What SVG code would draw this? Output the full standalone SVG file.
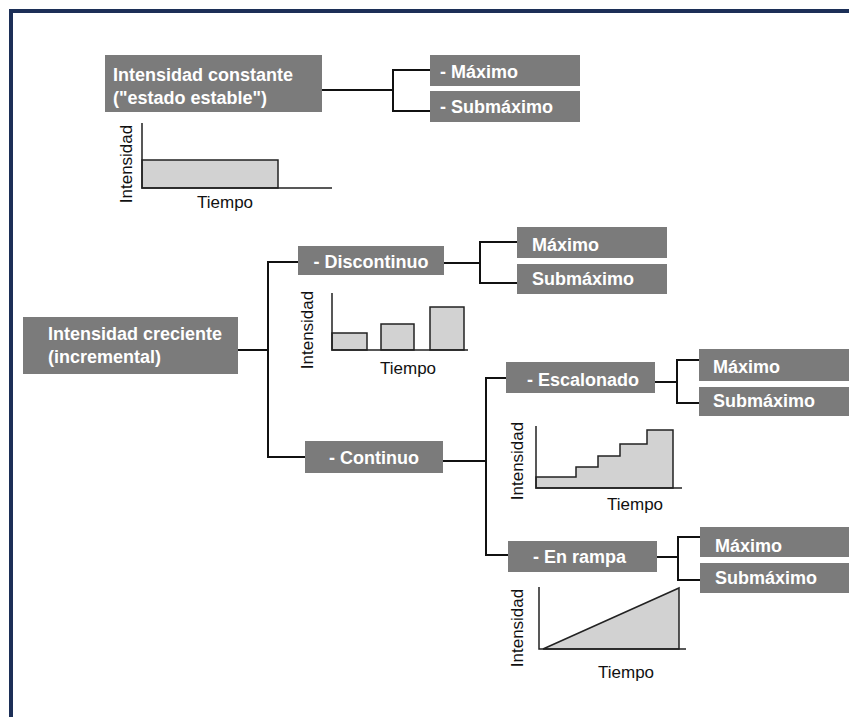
<svg xmlns="http://www.w3.org/2000/svg" width="849" height="717" viewBox="0 0 849 717">
<style>
.box{fill:#7b7b7b}
.bt{font-family:"Liberation Sans",Arial,sans-serif;font-weight:bold;font-size:18px;fill:#ffffff}
.ax{font-family:"Liberation Sans",Arial,sans-serif;font-size:17px;fill:#111111}
.ln{fill:none;stroke:#111111;stroke-width:2}
.axis{fill:none;stroke:#222222;stroke-width:1.5}
.bar{fill:#d2d2d2;stroke:#222222;stroke-width:1.5}
</style>
<rect x="0" y="0" width="849" height="717" fill="#ffffff"/>
<rect x="9" y="9" width="840" height="4" fill="#1c2f57"/>
<rect x="9" y="9" width="4" height="708" fill="#1c2f57"/>
<g id="connectors">
<path class="ln" d="M322,90 H393 M430,70 H393 V111 H430"/>
<path class="ln" d="M238,350 H268 M298,262 H268 V457 H305"/>
<path class="ln" d="M444,263 H480 M517,242 H480 V283 H517"/>
<path class="ln" d="M443,461 H486 M506,378 H486 V555 H508"/>
<path class="ln" d="M655,382 H677 M699,360 H677 V403 H699"/>
<path class="ln" d="M657,557 H678 M700,537 H678 V580 H700"/>
</g>
<g id="n-constante">
<rect class="box" x="105" y="55" width="217" height="57"/>
<text class="bt" x="113" y="81">Intensidad constante</text>
<text class="bt" x="113" y="104">("estado estable")</text>
</g>
<g id="n-max1"><rect class="box" x="430" y="55" width="150" height="31"/><text class="bt" x="440" y="78">- Máximo</text></g>
<g id="n-sub1"><rect class="box" x="430" y="91" width="150" height="31"/><text class="bt" x="440" y="113">- Submáximo</text></g>
<g id="chart1">
<rect class="bar" x="142" y="160" width="136" height="28"/>
<path class="axis" d="M142,123 V188 H332"/>
<text class="ax" transform="translate(132,164) rotate(-90)" text-anchor="middle">Intensidad</text>
<text class="ax" x="197" y="208">Tiempo</text>
</g>
<g id="n-creciente">
<rect class="box" x="23" y="317" width="215" height="57"/>
<text class="bt" x="48" y="340">Intensidad creciente</text>
<text class="bt" x="48" y="363">(incremental)</text>
</g>
<g id="n-discontinuo"><rect class="box" x="298" y="246" width="146" height="29"/><text class="bt" x="371" y="268" text-anchor="middle">- Discontinuo</text></g>
<g id="n-max2"><rect class="box" x="517" y="227" width="150" height="31"/><text class="bt" x="532" y="251">Máximo</text></g>
<g id="n-sub2"><rect class="box" x="517" y="264" width="150" height="30"/><text class="bt" x="532" y="285">Submáximo</text></g>
<g id="chart2">
<rect class="bar" x="332" y="333" width="35" height="17"/>
<rect class="bar" x="381" y="324" width="33" height="26"/>
<rect class="bar" x="430" y="307" width="34" height="43"/>
<path class="axis" d="M332,293 V350 H468"/>
<text class="ax" transform="translate(313,330) rotate(-90)" text-anchor="middle">Intensidad</text>
<text class="ax" x="380" y="374">Tiempo</text>
</g>
<g id="n-continuo"><rect class="box" x="305" y="441" width="138" height="32"/><text class="bt" x="374" y="464" text-anchor="middle">- Continuo</text></g>
<g id="n-escalonado"><rect class="box" x="506" y="362" width="149" height="31"/><text class="bt" x="527" y="386">- Escalonado</text></g>
<g id="n-max3"><rect class="box" x="699" y="349" width="150" height="32"/><text class="bt" x="713" y="373">Máximo</text></g>
<g id="n-sub3"><rect class="box" x="699" y="387" width="150" height="29"/><text class="bt" x="713" y="407">Submáximo</text></g>
<g id="chart3">
<path class="bar" d="M536,488 V477 H576 V467 H598 V456 H620 V444 H647 V430 H673 V488 Z"/>
<path class="axis" d="M536,426 V488 H682"/>
<text class="ax" transform="translate(523,461) rotate(-90)" text-anchor="middle">Intensidad</text>
<text class="ax" x="607" y="510">Tiempo</text>
</g>
<g id="n-rampa"><rect class="box" x="508" y="541" width="149" height="31"/><text class="bt" x="533" y="563">- En rampa</text></g>
<g id="n-max4"><rect class="box" x="700" y="527" width="149" height="30"/><text class="bt" x="715" y="552">Máximo</text></g>
<g id="n-sub4"><rect class="box" x="700" y="563" width="149" height="30"/><text class="bt" x="715" y="584">Submáximo</text></g>
<g id="chart4">
<path class="bar" d="M543,649 L679,588 V649 Z"/>
<path class="axis" d="M539,587 V649 H686"/>
<text class="ax" transform="translate(523,628) rotate(-90)" text-anchor="middle">Intensidad</text>
<text class="ax" x="598" y="678">Tiempo</text>
</g>
</svg>
